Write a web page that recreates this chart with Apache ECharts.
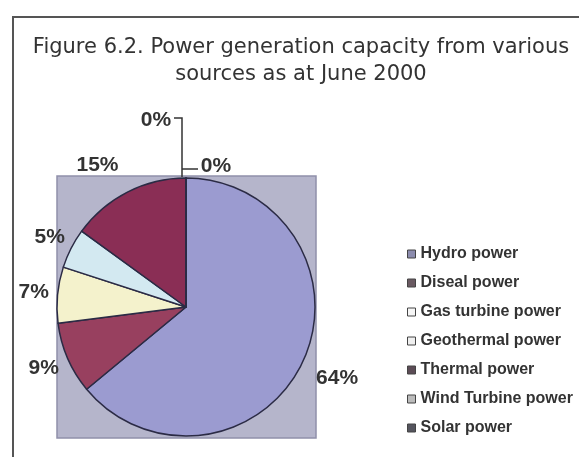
<!DOCTYPE html>
<html>
<head>
<meta charset="utf-8">
<script src="https://cdn.jsdelivr.net/npm/echarts@6/dist/echarts.min.js"></script>
<style>
html,body{margin:0;padding:0;background:#fff;}
#chart{width:579px;height:457px;}
</style>
</head>
<body>
<div id="chart"></div>
<script>
// ---- data ----
var categories = ['Hydro power', 'Diseal power', 'Gas turbine power', 'Geothermal power', 'Thermal power', 'Wind Turbine power', 'Solar power'];
var shares = [64, 9, 7, 5, 15, 0, 0];
var labelTexts = ['64%', '9%', '7%', '5%', '15%', '0%', '0%'];
var titleLines = ['Figure 6.2. Power generation capacity from various', 'sources as at June 2000'];

// ---- styles ----
var sliceColors = ['#9b9bd0', '#98405f', '#f4f2cc', '#d3e9f1', '#8a2e55', '#ff8080', '#0066cc'];
var legendColors = ['#8c8cae', '#6a5a62', '#f6f6f6', '#efefef', '#5c4c56', '#bcbcbc', '#55555e'];
var CX = 186, CY = 307, R = 129;
var labelDist = [167, 155, 153, 153, 167];
var labelAngleShift = [0, 0, 0, 0, -5];

var total = shares.reduce(function (a, b) { return a + b; }, 0);
var midAngles = [];
(function () {
  var acc = 0;
  for (var i = 0; i < shares.length; i++) {
    midAngles.push((acc + shares[i] / 2) / total * 360);
    acc += shares[i];
  }
})();

var chart = echarts.init(document.getElementById('chart'), null, {renderer: 'canvas'});

var pieData = categories.map(function (c, i) {
  var item = {
    name: c,
    value: shares[i],
    itemStyle: {color: sliceColors[i]},
    label: {formatter: labelTexts[i]}
  };
  if (i >= 5) {
    item.labelLine = {show: true, lineStyle: {color: '#333', width: 1.5}};
  }
  return item;
});

var option = {
  animation: false,
  backgroundColor: '#ffffff',
  title: {
    text: titleLines.join('\n'),
    left: 301,
    top: 34,
    padding: 0,
    textAlign: 'center',
    textStyle: {
      fontFamily: 'DejaVu Sans',
      fontSize: 21,
      fontWeight: 'normal',
      color: '#333',
      lineHeight: 27
    }
  },
  graphic: [
    {
      type: 'rect', z: -10,
      shape: {x: 13, y: 17, width: 620, height: 500},
      style: {fill: 'none', stroke: '#555', lineWidth: 2}
    },
    {
      type: 'rect', z: -5,
      shape: {x: CX - R, y: CY - R - 2, width: 2 * R + 1, height: 2 * R + 4},
      style: {fill: '#b5b5cb', stroke: '#9090aa', lineWidth: 1.5}
    }
  ],
  legend: {
    orient: 'vertical',
    left: 402,
    top: 241,
    itemWidth: 8,
    itemHeight: 8,
    itemGap: 13,
    icon: 'rect',
    selectedMode: false,
    textStyle: {
      fontFamily: 'Liberation Sans',
      fontSize: 16,
      fontWeight: 'bold',
      color: '#333',
      lineHeight: 16
    },
    itemStyle: {borderColor: '#444', borderWidth: 1},
    data: categories.map(function (c, i) {
      return {name: c, itemStyle: {color: legendColors[i], borderColor: '#444', borderWidth: 1}};
    })
  },
  series: [{
    type: 'pie',
    z: 2,
    center: [CX, CY],
    radius: [0, R],
    startAngle: 90,
    clockwise: true,
    avoidLabelOverlap: false,
    minShowLabelAngle: 0,
    stillShowZeroSum: true,
    itemStyle: {borderColor: '#2b2b45', borderWidth: 1.5},
    emphasis: {disabled: true},
    label: {
      show: true,
      position: 'outside',
      fontFamily: 'Liberation Sans',
      fontSize: 21,
      fontWeight: 'bold',
      color: '#333'
    },
    labelLine: {show: false},
    labelLayout: function (p) {
      var i = p.dataIndex;
      if (i === 5) {
        return {
          x: CX + 30, y: CY - R - 12, align: 'center', verticalAlign: 'middle',
          labelLinePoints: [[CX - 4, CY - R - 9], [CX + 6, CY - R - 9], [CX + 12, CY - R - 9]]
        };
      }
      if (i === 6) {
        return {
          x: CX - 30, y: CY - R - 58, align: 'center', verticalAlign: 'middle',
          labelLinePoints: [[CX - 4, CY - R - 1], [CX - 4, CY - R - 60], [CX - 12, CY - R - 60]]
        };
      }
      var a = (midAngles[i] + labelAngleShift[i]) * Math.PI / 180;
      var d = labelDist[i];
      return {
        x: CX + d * Math.sin(a),
        y: CY - d * Math.cos(a),
        align: 'center',
        verticalAlign: 'middle'
      };
    },
    data: pieData
  }]
};
chart.setOption(option);
</script>
</body>
</html>
